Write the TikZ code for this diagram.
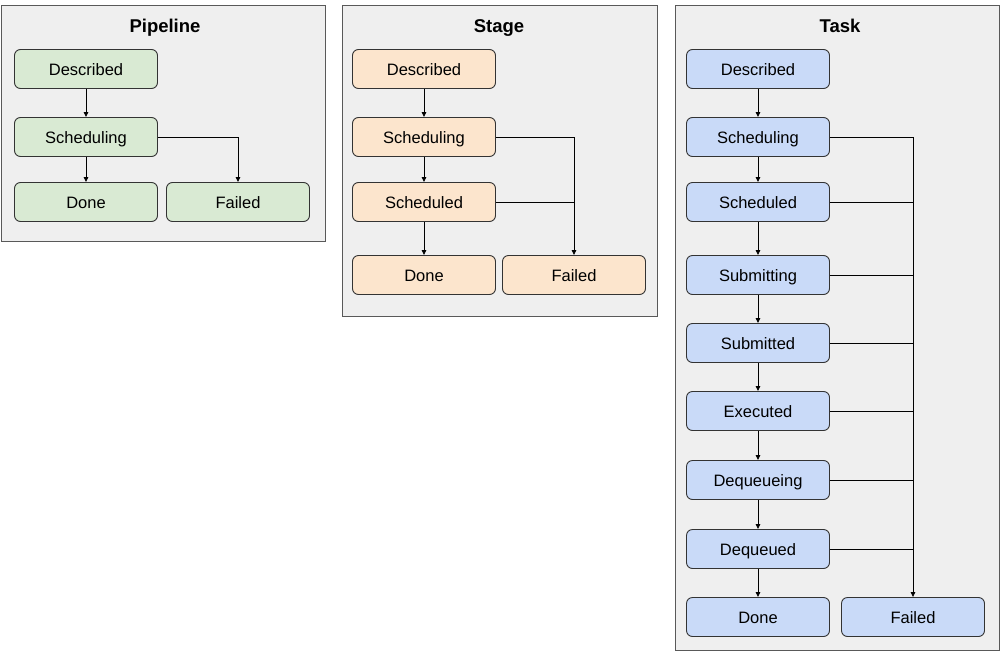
\documentclass[tikz,border=0pt]{standalone}
\usepackage{fontspec}
\setmainfont{Liberation Sans}
\usetikzlibrary{arrows.meta}
\definecolor{panelfill}{HTML}{EFEFEF}
\definecolor{panelline}{HTML}{595959}
\definecolor{greenfill}{HTML}{D9EAD3}
\definecolor{orangefill}{HTML}{FCE5CD}
\definecolor{bluefill}{HTML}{C9DAF8}
\definecolor{stateline}{HTML}{333333}
\tikzset{
  panel/.style={draw=panelline, fill=panelfill, line width=1pt},
  paneltitle/.style={font=\fontsize{18.5}{22}\selectfont\bfseries,
    text height=14pt, text depth=4pt},
  state/.style={draw=stateline, line width=0.9pt, rounded corners=6pt,
    minimum width=143pt, minimum height=39pt, inner sep=0pt,
    text height=12pt, text depth=0pt,
    font=\fontsize{16.5}{20}\selectfont},
  pstate/.style={state, fill=greenfill},
  sstate/.style={state, fill=orangefill},
  tstate/.style={state, fill=bluefill},
  flow/.style={draw=black, line width=0.85pt, -{Triangle[length=5pt,width=4.5pt]}},
  failjoin/.style={draw=black, line width=0.85pt},
}
\begin{document}
\begin{tikzpicture}[x=1pt,y=-1pt]
\useasboundingbox (0,0) rectangle (1002,651);

% ---------- Pipeline ----------
\draw[panel] (1,5) rectangle (325,241);
\node[paneltitle] (ptitle) at (165,27) {Pipeline};
\node[pstate] (pdesc) at (86,69) {Described};
\node[pstate] (psched) at (86,137) {Scheduling};
\node[pstate] (pdone) at (86,202) {Done};
\node[pstate] (pfail) at (238,202) {Failed};
\draw[flow] (pdesc) -- (psched);
\draw[flow] (psched) -- (pdone);
\draw[flow] (psched.east) -| (pfail.north);

% ---------- Stage ----------
\draw[panel] (342,5) rectangle (657,316);
\node[paneltitle] (stitle) at (499,27) {Stage};
\node[sstate] (sdesc) at (424,69) {Described};
\node[sstate] (ssched) at (424,137) {Scheduling};
\node[sstate] (sschd) at (424,202) {Scheduled};
\node[sstate] (sdone) at (424,275) {Done};
\node[sstate] (sfail) at (574,275) {Failed};
\draw[flow] (sdesc) -- (ssched);
\draw[flow] (ssched) -- (sschd);
\draw[flow] (sschd) -- (sdone);
\draw[flow] (ssched.east) -| (sfail.north);
\draw[failjoin] (sschd.east) -- (sschd.east -| sfail.north);

% ---------- Task ----------
\draw[panel] (675,5) rectangle (999,650);
\node[paneltitle] (ttitle) at (840,27) {Task};
\node[tstate] (tdesc) at (758,69) {Described};
\node[tstate] (tsched) at (758,137) {Scheduling};
\node[tstate] (tschd) at (758,202) {Scheduled};
\node[tstate] (tsubg) at (758,275) {Submitting};
\node[tstate] (tsubd) at (758,343) {Submitted};
\node[tstate] (texec) at (758,411) {Executed};
\node[tstate] (tdeqg) at (758,480) {Dequeueing};
\node[tstate] (tdeqd) at (758,549) {Dequeued};
\node[tstate] (tdone) at (758,617) {Done};
\node[tstate] (tfail) at (913,617) {Failed};
\draw[flow] (tdesc) -- (tsched);
\draw[flow] (tsched) -- (tschd);
\draw[flow] (tschd) -- (tsubg);
\draw[flow] (tsubg) -- (tsubd);
\draw[flow] (tsubd) -- (texec);
\draw[flow] (texec) -- (tdeqg);
\draw[flow] (tdeqg) -- (tdeqd);
\draw[flow] (tdeqd) -- (tdone);
\draw[flow] (tsched.east) -| (tfail.north);
\foreach \s in {tschd,tsubg,tsubd,texec,tdeqg,tdeqd}
  \draw[failjoin] (\s.east) -- (\s.east -| tfail.north);
\end{tikzpicture}
\end{document}
